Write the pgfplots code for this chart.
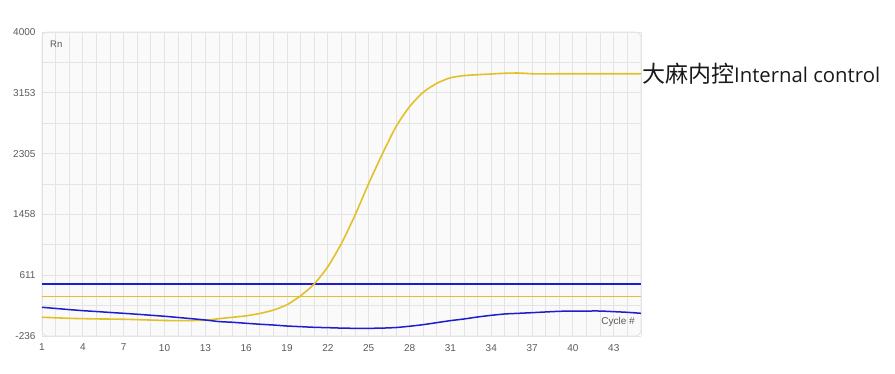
\documentclass[border=0pt]{standalone}
\usepackage{fontspec}
\setmainfont{Liberation Sans}
\newfontfamily\cjk{Noto Sans CJK SC}
\newfontfamily\opensans{Open Sans}
\usepackage{pgfplots}
\pgfplotsset{compat=1.18}
\definecolor{cy}{RGB}{226,192,40}
\definecolor{cb}{RGB}{30,30,206}
\definecolor{gridc}{RGB}{228,228,228}
\definecolor{tickc}{RGB}{90,90,90}
\definecolor{bgc}{RGB}{250,250,250}
\definecolor{framec}{RGB}{226,226,226}

\begin{document}
\begin{tikzpicture}[x=1pt,y=1pt]
\path[use as bounding box] (0,0) rectangle (895,374);
\begin{axis}[
  at={(42pt,38pt)}, anchor=south west,
  scale only axis, width=599pt, height=304pt,
  xmin=1, xmax=45, ymin=-236, ymax=4000,
  xtick={1,4,7,10,13,16,19,22,25,28,31,34,37,40,43},
  xticklabels={1,4,7,10,13,16,19,22,25,28,31,34,37,40,43},
  minor xtick={1,...,45},
  ytick={-236,611,1458,2305,3153,4000},
  yticklabels={-236,611,1458,2305,3153,4000},
  minor ytick={187.5,1034.5,1881.5,2729,3576.5},
  scaled y ticks=false, scaled x ticks=false,
  grid=both,
  major grid style={gridc, line width=0.9pt},
  minor grid style={gridc, line width=0.9pt},
  axis line style={draw=none},
  major tick length=0pt, minor tick length=0pt,
  axis background/.style={fill=bgc, draw=framec, line width=0.8pt, rounded corners=5pt},
  tick label style={font=\fontsize{10}{11}\selectfont, text=tickc},
  xticklabel style={yshift=-4.5pt},
  yticklabel style={xshift=-3pt},
  /pgf/number format/assume math mode=true,
]
\addplot[cb, line width=1.5pt] coordinates {(1,489) (45,489)};
\addplot[cy, line width=1.6pt] coordinates {(1,312) (45,312)};
\addplot[cy, line width=1.6pt, smooth, tension=0.4] coordinates {
(1,25) (2,18) (3,10) (4,6) (5,2) (6,0) (7,-3) (8,-8) (9,-14) (10,-20)
(11,-22) (12,-20) (13,-16) (14,5) (15,25) (16,45) (17,78) (18,125) (19,200) (20,325)
(21,490) (22,730) (23,1055) (24,1450) (25,1890) (26,2300) (27,2680) (28,2960) (29,3160) (30,3285)
(31,3362) (32,3392) (33,3405) (34,3415) (35,3425) (36,3428) (37,3418) (38,3416) (39,3418) (40,3418)
(41,3418) (42,3418) (43,3418) (44,3418) (45,3418)};
\addplot[cb, line width=1.5pt, smooth, tension=0.4] coordinates {
(1,164) (2,148) (3,132) (4,117) (5,105) (6,92) (7,80) (8,67) (9,53) (10,39)
(11,22) (12,5) (13,-13) (14,-35) (15,-45) (16,-59) (17,-72) (18,-83) (19,-97) (20,-106)
(21,-115) (22,-120) (23,-126) (24,-129) (25,-129) (26,-126) (27,-118) (28,-100) (29,-78) (30,-50)
(31,-22) (32,1) (33,29) (34,52) (35,71) (36,80) (37,89) (38,99) (39,108) (40,112)
(41,112) (42,112) (43,103) (44,94) (45,80)};
\coordinate (leg) at (axis cs:45,3418);
\coordinate (tl) at (rel axis cs:0,1);
\coordinate (br) at (rel axis cs:1,0);
\end{axis}
\node[anchor=north west, inner sep=0pt, font=\fontsize{9.5}{10}\selectfont, text=tickc] at ([shift={(8pt,-9pt)}]tl) {Rn};
\node[anchor=south east, inner sep=0pt, font=\fontsize{10}{11}\selectfont, text=tickc] at ([shift={(-6pt,9pt)}]br) {Cycle \#};
\node[anchor=west, inner sep=0pt, text={rgb,255:red,25;green,25;blue,25}] at ([xshift=1pt]leg) {{\cjk\fontsize{23}{25}\selectfont 大麻内控}{\opensans\fontsize{20.3}{22}\selectfont Internal control}};
\end{tikzpicture}
\end{document}
